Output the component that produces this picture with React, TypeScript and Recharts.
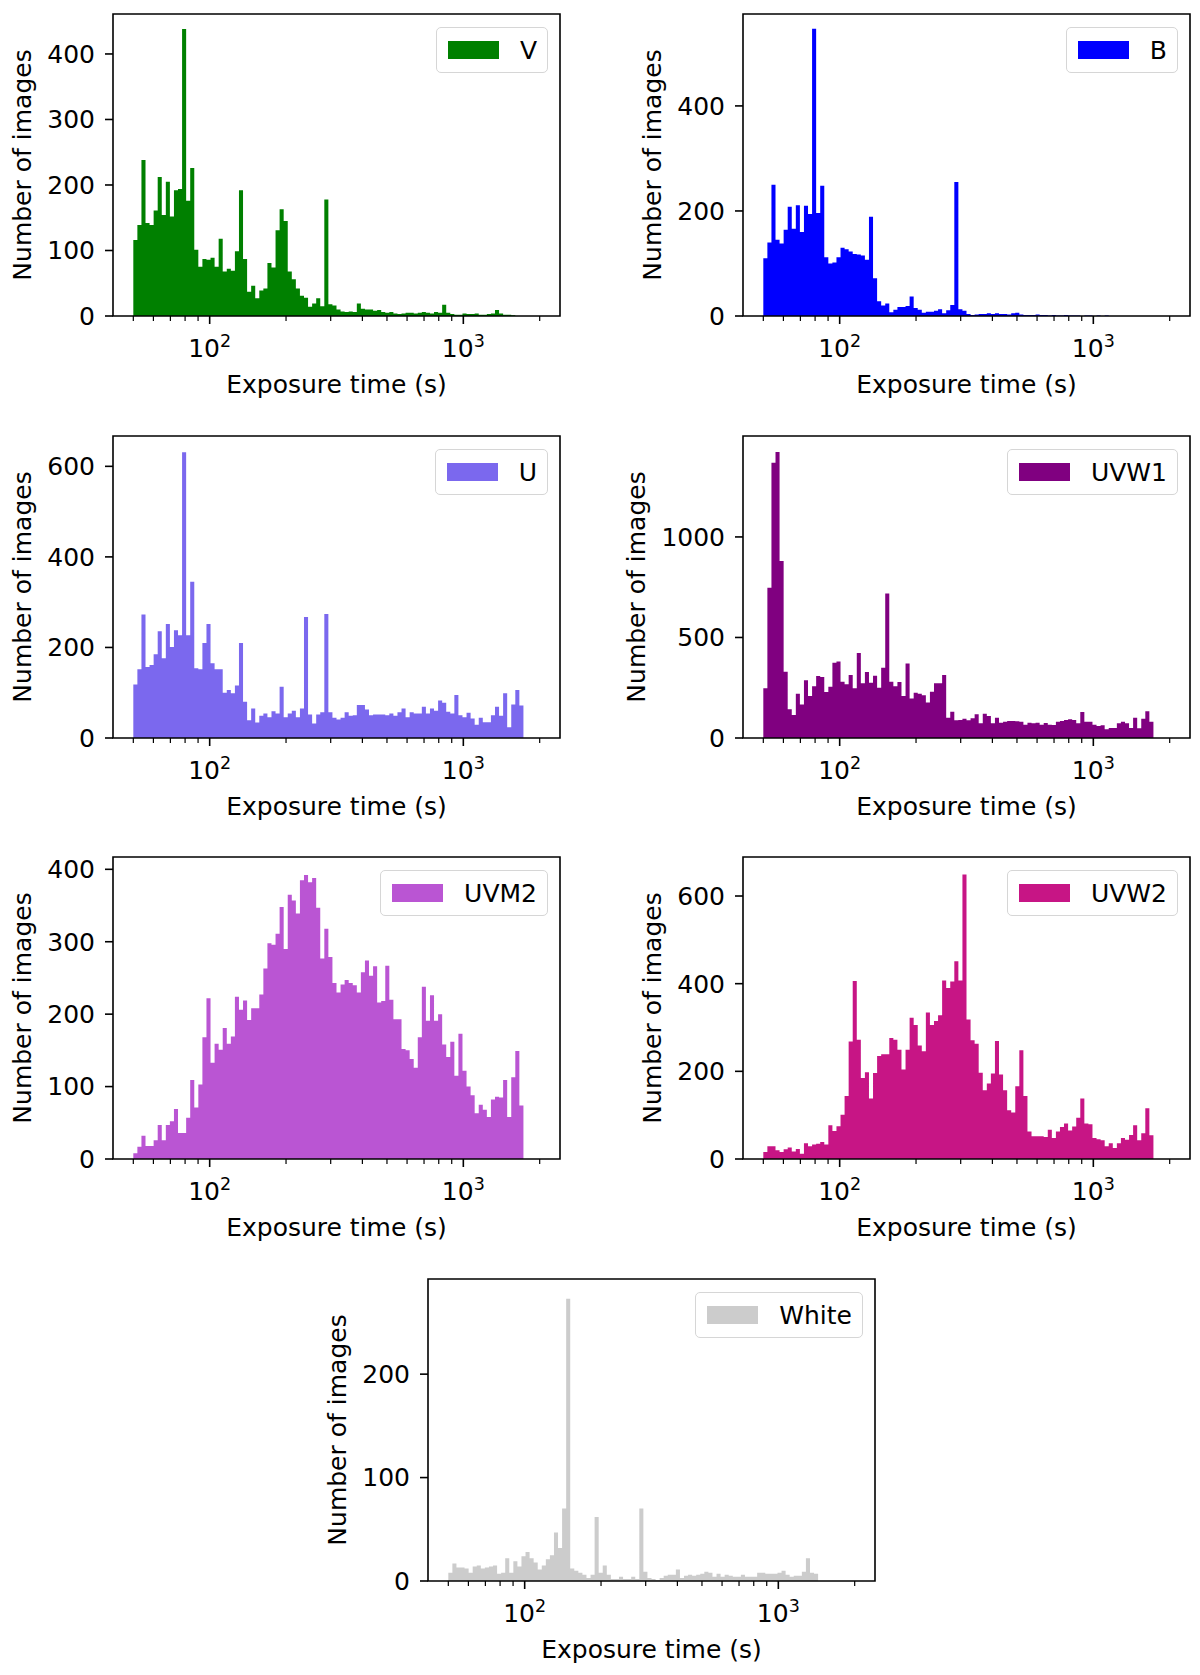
import React from 'react';
import { AreaChart, Area, XAxis, YAxis, ReferenceArea, Legend } from 'recharts';

const FONT = '"DejaVu Sans", Verdana, sans-serif';

// 100 log-spaced bins between 50 s and 2000 s (same binning for every filter)
const BIN_MIN = 50;
const BIN_MAX = 2000;
const N_BINS = 100;
const BIN_EDGES = Array.from({ length: N_BINS + 1 }, (_, i) => BIN_MIN * Math.pow(BIN_MAX / BIN_MIN, i / N_BINS));

const X_DOMAIN: [number, number] = [41.58, 2405];
const X_TICKS = [50, 60, 70, 80, 90, 100, 200, 300, 400, 500, 600, 700, 800, 900, 1000, 2000];
const X_TICK_EXPONENTS: Record<number, string> = { 100: '2', 1000: '3' };

// counts per bin
const V_COUNTS = [
  116, 139, 238, 142, 139, 161, 212, 154, 205, 152, 192, 194, 438, 176, 226, 101, 75, 87, 86, 89,
  75, 118, 68, 72, 69, 99, 192, 87, 37, 46, 27, 39, 42, 81, 74, 131, 163, 145, 68, 56,
  42, 31, 28, 14, 19, 27, 15, 178, 18, 16, 10, 7, 6, 7, 6, 19, 11, 10, 10, 8,
  9, 6, 5, 6, 4, 3, 4, 5, 5, 4, 5, 6, 5, 4, 6, 5, 17, 5, 3, 2,
  2, 4, 3, 3, 4, 2, 2, 3, 4, 9, 4, 2, 2, 1,
];
const B_COUNTS = [
  110, 140, 250, 145, 138, 164, 208, 166, 211, 160, 210, 194, 547, 196, 248, 112, 100, 102, 112, 130,
  127, 123, 118, 117, 115, 107, 189, 72, 28, 20, 24, 7, 12, 17, 17, 19, 37, 15, 12, 6,
  8, 8, 10, 13, 5, 11, 21, 255, 13, 10, 4, 2, 3, 4, 4, 5, 4, 5, 4, 4,
  3, 5, 6, 3, 2, 2, 2, 3, 2, 2, 1, 2, 1, 1, 2, 1, 1, 1, 0, 1,
  1, 0, 1, 0, 1,
];
const U_COUNTS = [
  118, 152, 273, 157, 161, 185, 236, 176, 252, 201, 238, 227, 631, 227, 345, 154, 152, 210, 252, 165,
  152, 152, 100, 106, 99, 116, 210, 80, 39, 65, 34, 49, 54, 46, 59, 54, 113, 46, 54, 60,
  46, 65, 267, 52, 32, 52, 57, 274, 57, 45, 41, 45, 57, 49, 50, 73, 73, 63, 50, 52,
  52, 52, 50, 54, 49, 57, 65, 46, 57, 54, 54, 69, 54, 65, 60, 83, 78, 58, 54, 95,
  50, 46, 56, 43, 29, 45, 35, 35, 50, 69, 49, 99, 24, 74, 106, 72,
];
const UVW1_COUNTS = [
  247, 747, 1369, 1423, 880, 330, 143, 114, 220, 166, 287, 209, 258, 308, 303, 229, 255, 374, 381, 280,
  267, 313, 247, 423, 272, 328, 275, 310, 250, 350, 719, 280, 258, 278, 209, 370, 197, 225, 220, 212,
  176, 230, 272, 272, 313, 101, 131, 88, 89, 96, 88, 98, 118, 73, 121, 109, 73, 101, 76, 81,
  84, 84, 83, 81, 66, 76, 73, 76, 66, 75, 66, 65, 81, 84, 89, 93, 89, 73, 129, 81,
  81, 66, 60, 63, 43, 50, 50, 73, 81, 73, 50, 101, 48, 96, 133, 81,
];
const UVM2_COUNTS = [
  8, 17, 32, 18, 18, 26, 47, 26, 47, 52, 69, 36, 36, 57, 109, 71, 103, 168, 222, 133,
  159, 151, 181, 159, 169, 224, 206, 219, 192, 208, 208, 227, 263, 298, 296, 311, 348, 290, 365, 357,
  339, 385, 392, 382, 388, 347, 277, 318, 279, 243, 230, 241, 247, 243, 240, 230, 258, 274, 253, 266,
  216, 218, 267, 220, 193, 193, 152, 150, 138, 126, 168, 238, 191, 226, 191, 200, 158, 141, 162, 115,
  173, 122, 100, 88, 63, 75, 68, 58, 82, 86, 85, 109, 58, 113, 149, 74,
];
const UVW2_COUNTS = [
  16, 29, 29, 20, 16, 22, 26, 17, 23, 12, 36, 29, 33, 35, 39, 33, 77, 64, 75, 101,
  144, 268, 406, 272, 185, 198, 138, 196, 235, 239, 239, 276, 272, 249, 204, 249, 322, 306, 259, 246,
  334, 306, 315, 328, 407, 390, 405, 451, 407, 649, 318, 271, 263, 197, 157, 172, 195, 269, 193, 157,
  111, 106, 166, 248, 144, 63, 52, 52, 52, 50, 67, 48, 63, 73, 81, 65, 74, 94, 138, 81,
  79, 48, 45, 43, 29, 36, 25, 36, 48, 44, 55, 77, 43, 59, 116, 54,
];
const WHITE_COUNTS = [
  8, 17, 13, 13, 12, 8, 14, 15, 12, 13, 14, 15, 7, 8, 22, 8, 19, 14, 24, 28,
  22, 18, 11, 15, 21, 25, 47, 32, 70, 273, 12, 10, 8, 6, 3, 6, 62, 8, 15, 6,
  2, 2, 4, 2, 2, 4, 2, 70, 9, 3, 2, 1, 3, 5, 6, 6, 11, 3, 5, 6,
  5, 6, 7, 9, 8, 4, 7, 4, 6, 5, 4, 4, 6, 4, 4, 4, 8, 8, 7, 7,
  7, 8, 10, 6, 4, 5, 5, 9, 22, 8, 7,
];

const FILTERS = ['V', 'B', 'U', 'UVW1', 'UVM2', 'UVW2', 'White'];
const COUNTS = [V_COUNTS, B_COUNTS, U_COUNTS, UVW1_COUNTS, UVM2_COUNTS, UVW2_COUNTS, WHITE_COUNTS];
const Y_TICKS = [
  [0, 100, 200, 300, 400],
  [0, 200, 400],
  [0, 200, 400, 600],
  [0, 500, 1000],
  [0, 100, 200, 300, 400],
  [0, 200, 400, 600],
  [0, 100, 200],
];
const Y_TOPS = [461, 575, 667, 1502, 417, 689, 292];
const COLORS = ['#008000', '#0000ff', '#7b68ee', '#800080', '#ba55d3', '#c71585', '#cccccc'];

// page layout: left/top of each axes box
const PANEL_POS = [
  { left: 113, top: 14 },
  { left: 743, top: 14 },
  { left: 113, top: 436 },
  { left: 743, top: 436 },
  { left: 113, top: 857 },
  { left: 743, top: 857 },
  { left: 428, top: 1279 },
];

const AXIS_W = 140;
const PLOT_W = 447;
const PLOT_H = 302;
const MARGIN_TOP = 14;
const MARGIN_RIGHT = 10;
const X_AXIS_H = 90;

function LogTick(props: any) {
  const { x, y, payload } = props;
  const exp = X_TICK_EXPONENTS[payload.value];
  const major = exp !== undefined;
  return (
    <g>
      <line x1={x} x2={x} y1={y} y2={y + (major ? 8 : 5)} stroke="#000" strokeWidth={major ? 1.6 : 1.2} />
      {major && (
        <text x={x} y={y + 41} textAnchor="middle" fontSize={25} fontFamily={FONT} fill="#000">
          10
          <tspan dy={-10} fontSize={17.5}>{exp}</tspan>
        </text>
      )}
    </g>
  );
}

const xLabel = (props: any) => {
  const { x, y, width } = props.viewBox;
  return (
    <text x={x + width / 2} y={y + 77} textAnchor="middle" fontSize={25} fontFamily={FONT} fill="#000">
      Exposure time (s)
    </text>
  );
};

const yLabel = (dx: number) => (props: any) => {
  const { x, y, height } = props.viewBox;
  const cx = x + dx;
  const cy = y + height / 2;
  return (
    <text x={cx} y={cy} transform={`rotate(-90 ${cx} ${cy})`} textAnchor="middle" fontSize={25} fontFamily={FONT} fill="#000">
      Number of images
    </text>
  );
};

function LegendBox({ name, color }: { name: string; color: string }) {
  return (
    <div
      style={{
        display: 'flex',
        alignItems: 'center',
        boxSizing: 'border-box',
        height: 46,
        padding: '0 10px 0 11px',
        border: '1.3px solid #d6d6d6',
        borderRadius: 5,
        background: 'rgba(255,255,255,0.8)',
        fontFamily: FONT,
        fontSize: 25,
        color: '#000',
        whiteSpace: 'nowrap',
      }}
    >
      <span style={{ display: 'inline-block', width: 51, height: 18, background: color, marginRight: 21 }} />
      <span style={{ lineHeight: 1 }}>{name}</span>
    </div>
  );
}

function Panel({ idx }: { idx: number }) {
  const name = FILTERS[idx];
  const color = COLORS[idx];
  const counts = COUNTS[idx];
  const yTop = Y_TOPS[idx];
  const pos = PANEL_POS[idx];
  const widest = String(Y_TICKS[idx][Y_TICKS[idx].length - 1]).length;
  const labelX = AXIS_W - 82 - (widest - 3) * 16;

  const rows = BIN_EDGES.slice(0, counts.length + 1).map((x, i) => ({
    x,
    count: i < counts.length ? counts[i] : 0,
  }));

  return (
    <div style={{ position: 'absolute', left: pos.left - AXIS_W, top: pos.top - MARGIN_TOP }}>
      <AreaChart
        width={AXIS_W + PLOT_W + MARGIN_RIGHT}
        height={MARGIN_TOP + PLOT_H + X_AXIS_H}
        data={rows}
        margin={{ top: MARGIN_TOP, right: MARGIN_RIGHT, bottom: 0, left: 0 }}
      >
        <XAxis
          dataKey="x"
          type="number"
          scale="log"
          domain={X_DOMAIN}
          allowDataOverflow
          ticks={X_TICKS}
          interval={0}
          tick={<LogTick />}
          tickLine={false}
          tickSize={0}
          tickMargin={0}
          axisLine={false}
          height={X_AXIS_H}
          label={{ content: xLabel }}
        />
        <YAxis
          type="number"
          domain={[0, yTop]}
          allowDataOverflow
          ticks={Y_TICKS[idx]}
          interval={0}
          width={AXIS_W}
          tickSize={8}
          tickMargin={10}
          tickLine={{ stroke: '#000', strokeWidth: 1.6 }}
          axisLine={false}
          tick={{ fill: '#000', fontSize: 25, fontFamily: FONT }}
          label={{ content: yLabel(labelX) }}
        />
        <Area
          type="stepAfter"
          dataKey="count"
          name={name}
          fill={color}
          fillOpacity={1}
          stroke="none"
          dot={false}
          activeDot={false}
          isAnimationActive={false}
        />
        <ReferenceArea
          x1={X_DOMAIN[0]}
          x2={X_DOMAIN[1]}
          y1={0}
          y2={yTop}
          fill="none"
          stroke="#000"
          strokeWidth={1.6}
          ifOverflow="visible"
        />
        <Legend
          layout="vertical"
          align="center"
          verticalAlign="middle"
          wrapperStyle={{ top: MARGIN_TOP + 13, right: MARGIN_RIGHT + 12, left: 'auto', width: 'auto', height: 'auto' }}
          content={(p: any) => <LegendBox name={p?.payload?.[0]?.value ?? name} color={color} />}
        />
      </AreaChart>
    </div>
  );
}

export default function App() {
  return (
    <div style={{ position: 'absolute', left: 0, top: 0, width: 1200, height: 1675, background: '#fff', overflow: 'hidden' }}>
      {FILTERS.map((f, i) => (
        <Panel key={f} idx={i} />
      ))}
    </div>
  );
}
